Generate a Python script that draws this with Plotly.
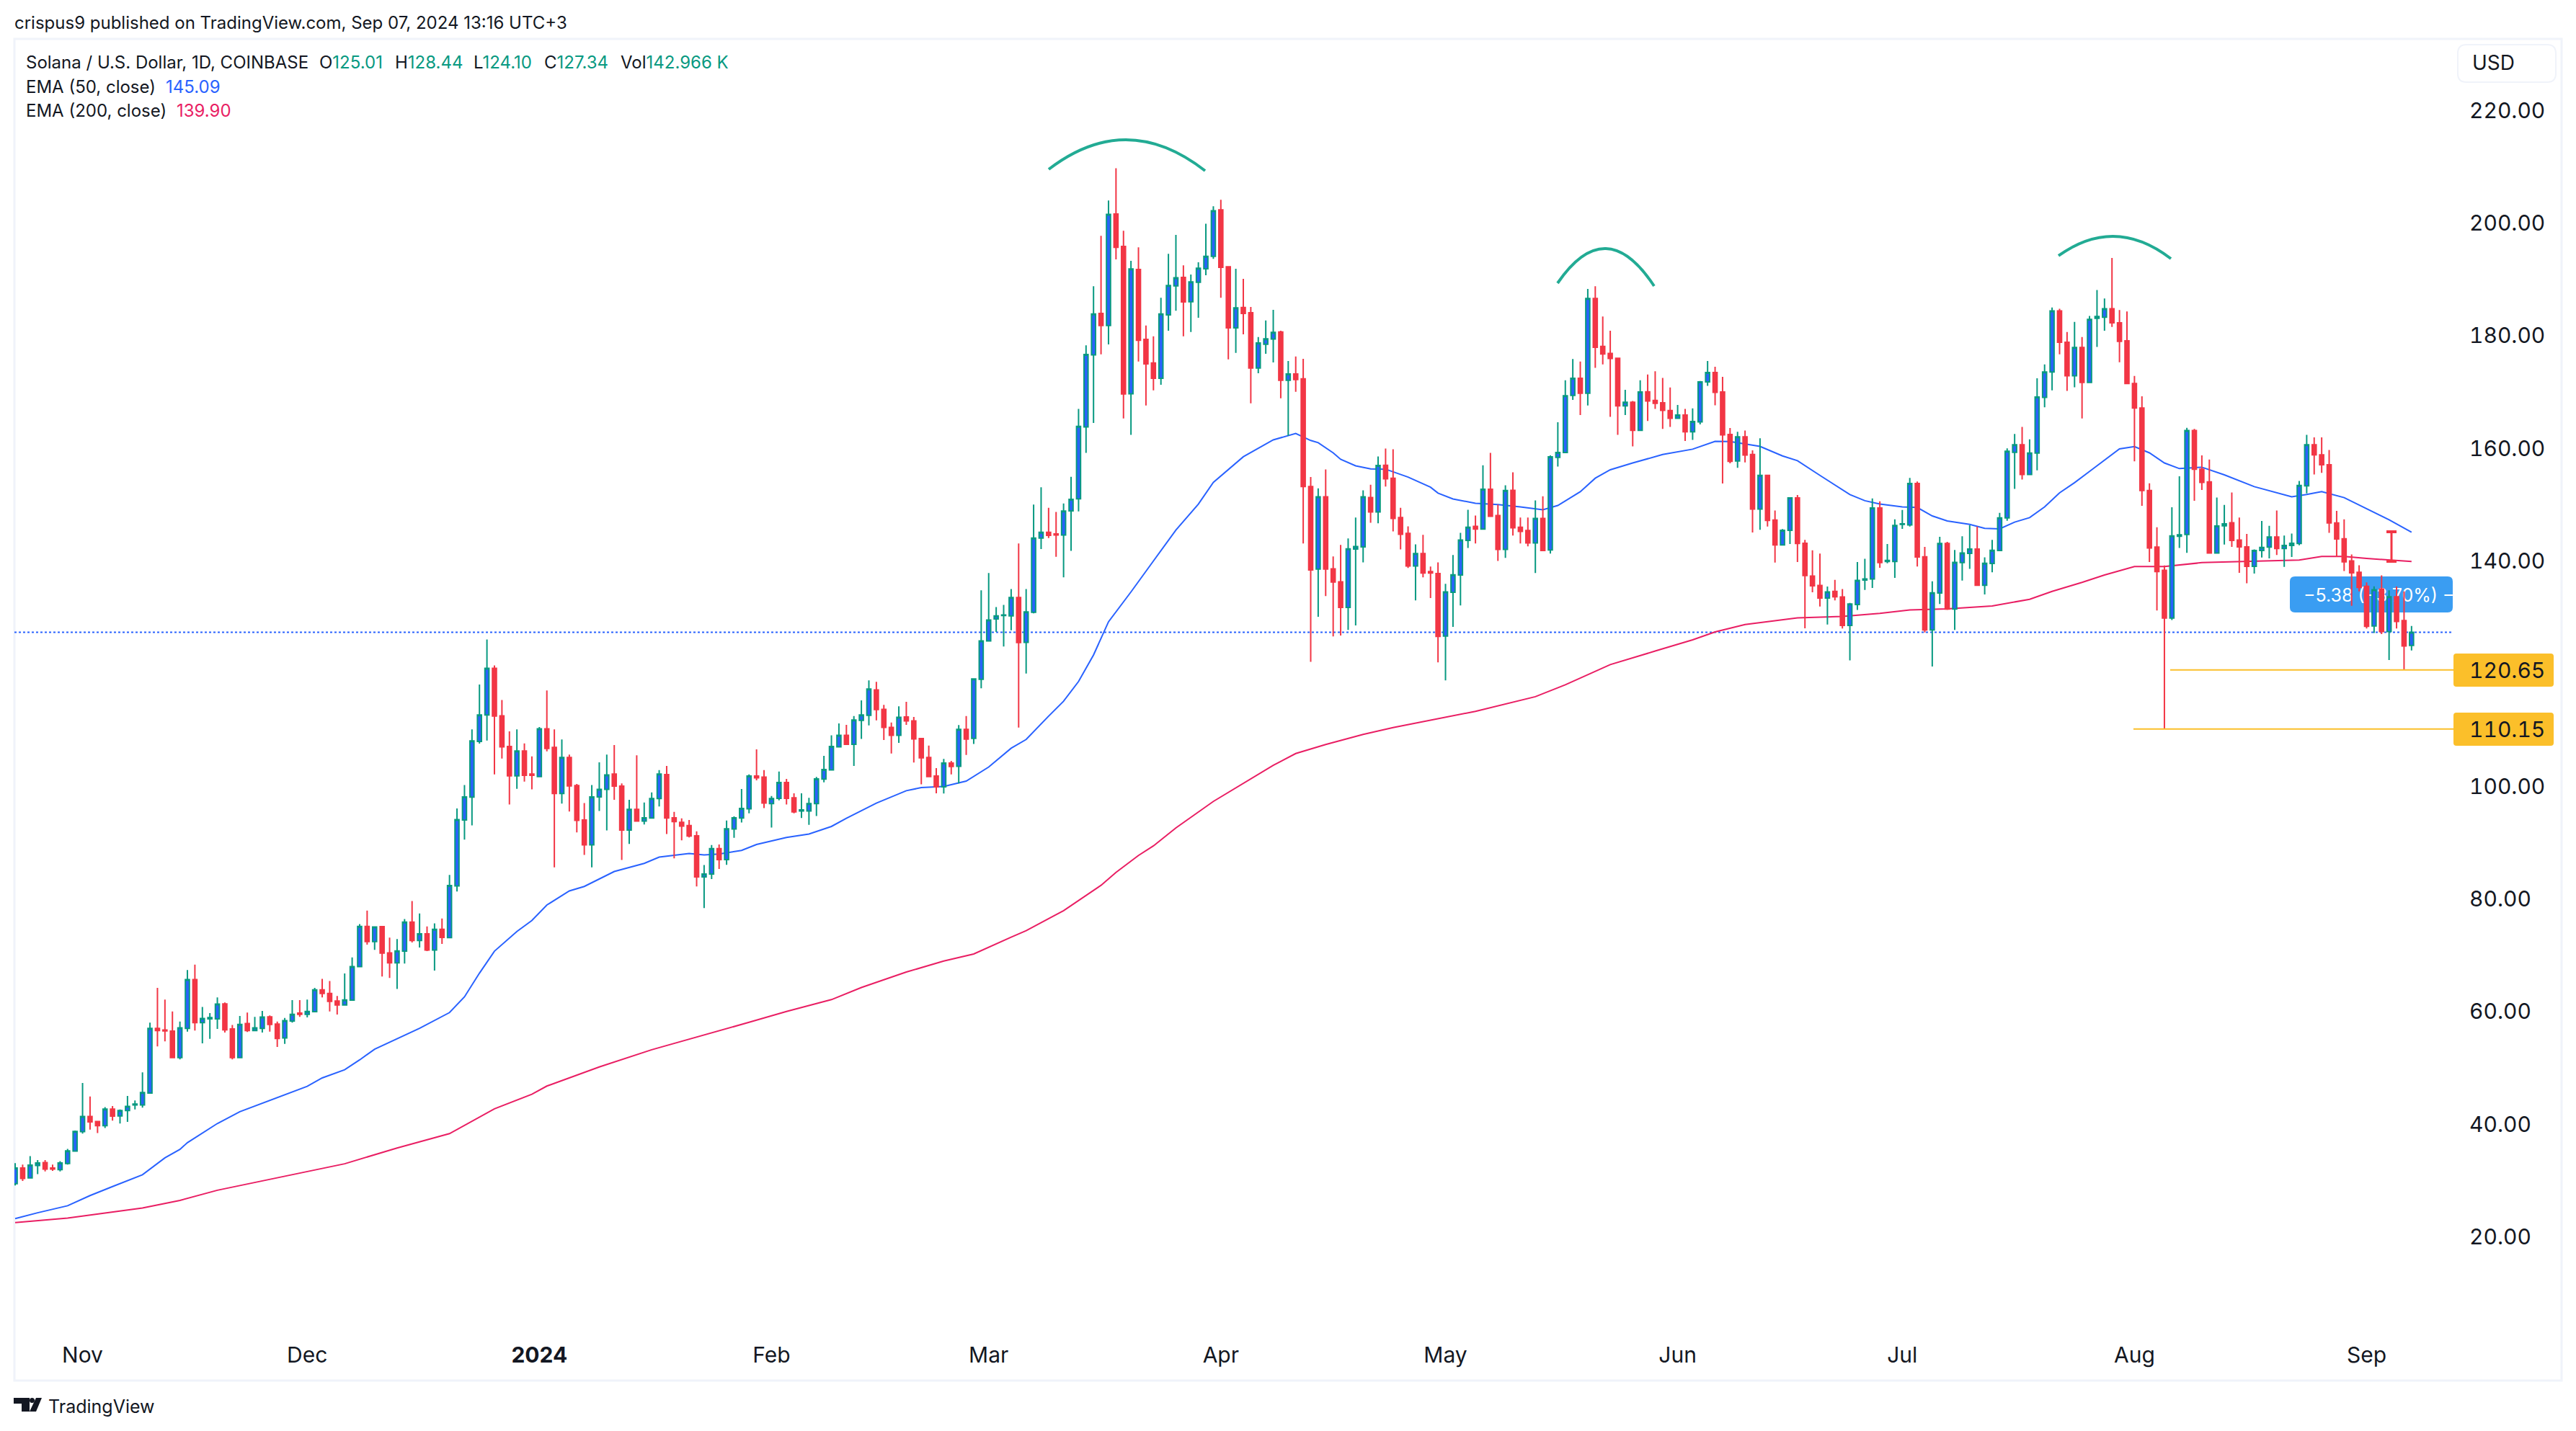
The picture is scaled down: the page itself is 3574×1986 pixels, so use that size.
import pandas as pd
import plotly.graph_objects as go

W, H = 3574, 1986
LEFT, RIGHT, TOP, BOTTOM = 20, 3404, 55, 1852

# daily candles, Oct 23 2023 .. Sep 7 2024
first_day = "2023-10-23"
opens = [
    29.4, 32.2, 30.45, 32.65, 33.15, 32.2, 31.9, 33.0, 35.2, 38.65,
    41.35, 40.45, 39.7, 42.65, 41.45, 42.4, 43.4, 43.4, 45.5, 57.0,
    56.7, 56.5, 51.8, 57.0, 65.65, 58.0, 58.7, 58.7, 61.35, 56.9,
    51.8, 57.85, 56.6, 57.0, 59.05, 57.75, 55.3, 58.3, 59.7, 59.5,
    59.95, 63.85, 63.2, 61.85, 61.15, 62.0, 67.95, 75.1, 72.4, 75.05,
    70.4, 68.65, 70.7, 75.85, 72.6, 73.8, 70.9, 74.6, 73.1, 82.3,
    94.0, 98.05, 107.95, 112.65, 120.95, 112.5, 107.05, 101.85, 106.25, 102.15,
    101.7, 110.2, 106.9, 98.7, 105.1, 100.1, 94.0, 89.6, 98.1, 99.45,
    102.15, 100.0, 92.2, 95.9, 93.8, 94.35, 97.8, 102.05, 94.4, 93.6,
    93.0, 91.2, 83.9, 84.4, 88.9, 86.95, 92.4, 94.35, 96.0, 101.8,
    101.6, 96.9, 97.85, 100.65, 97.95, 95.6, 95.6, 96.9, 101.25, 102.9,
    107.0, 109.05, 107.45, 111.7, 112.6, 117.1, 113.65, 110.45, 109.05, 112.3,
    111.6, 108.45, 105.1, 101.8, 99.9, 104.1, 103.55, 110.1, 108.5, 119.0,
    125.8, 129.7, 130.3, 130.25, 133.5, 125.55, 130.9, 144.05, 145.1, 144.8,
    144.6, 148.9, 151.05, 163.8, 176.6, 183.95, 181.8, 201.6, 195.85, 169.7,
    191.75, 179.35, 175.15, 172.45, 183.7, 188.85, 190.35, 186.05, 189.5, 191.9,
    194.1, 202.35, 192.25, 181.4, 185.0, 184.1, 174.25, 178.5, 179.4, 180.65,
    172.1, 173.2, 172.35, 153.2, 138.55, 151.4, 138.6, 136.3, 131.75, 142.1,
    142.5, 151.25, 148.7, 157.0, 154.7, 147.7, 144.9, 139.1, 141.3, 138.1,
    137.75, 126.65, 134.45, 137.5, 143.65, 146.15, 145.65, 152.75, 148.05, 142.05,
    152.55, 146.0, 145.4, 143.2, 147.55, 141.95, 158.4, 159.25, 169.4, 172.45,
    169.8, 186.6, 178.1, 176.85, 176.0, 167.55, 168.2, 163.2, 170.05, 168.5,
    168.1, 166.7, 165.35, 165.9, 162.95, 164.7, 171.8, 173.45, 170.0, 162.45,
    157.75, 162.05, 158.9, 149.2, 155.2, 147.25, 142.85, 145.45, 151.2, 143.15,
    137.3, 135.65, 133.4, 134.6, 133.6, 128.55, 132.25, 136.6, 136.8, 149.4,
    139.9, 139.9, 146.5, 146.4, 153.75, 140.75, 127.75, 134.3, 143.1, 131.45,
    139.7, 141.35, 142.1, 135.7, 139.55, 141.85, 147.65, 159.3, 160.65, 155.35,
    159.15, 169.05, 173.55, 184.4, 178.85, 172.9, 177.9, 171.7, 183.1, 183.3,
    184.8, 182.3, 179.1, 171.5, 167.15, 152.5, 142.45, 138.35, 129.85, 144.4,
    144.7, 163.15, 156.3, 154.05, 141.4, 146.25, 146.8, 143.7, 142.5, 139.05,
    141.85, 142.45, 144.25, 142.2, 142.75, 143.1, 153.35, 160.65, 158.85, 157.1,
    146.75, 143.95, 140.0, 138.0, 135.5, 128.45, 135.0, 127.45, 133.65, 129.4,
    125.01,
]
highs = [
    33.05, 32.8, 34.3, 33.6, 33.6, 32.8, 33.4, 35.6, 38.85, 47.3,
    44.9, 40.5, 43.0, 43.2, 42.6, 45.0, 44.2, 49.2, 58.0, 64.2,
    62.1, 60.0, 58.2, 67.35, 68.3, 60.8, 59.7, 62.5, 61.6, 57.6,
    59.2, 59.8, 59.05, 60.1, 59.3, 58.2, 58.85, 62.0, 62.0, 62.1,
    64.2, 65.8, 65.4, 62.75, 66.75, 69.6, 75.5, 77.9, 75.1, 75.1,
    73.1, 72.85, 76.4, 79.6, 77.4, 75.1, 75.65, 76.5, 84.25, 96.05,
    100.2, 110.1, 118.05, 126.05, 121.45, 115.3, 109.75, 110.1, 107.6, 105.3,
    110.5, 117.0, 110.1, 108.3, 105.6, 100.4, 97.0, 100.2, 104.25, 105.6,
    107.3, 100.5, 97.6, 105.5, 97.1, 98.9, 102.85, 103.6, 95.45, 94.3,
    94.0, 92.0, 86.0, 89.55, 89.65, 93.9, 94.65, 99.5, 102.1, 106.55,
    102.85, 98.25, 102.6, 101.3, 98.75, 98.75, 97.95, 101.65, 105.4, 109.05,
    111.15, 110.9, 112.45, 115.25, 118.8, 118.55, 114.45, 111.3, 114.2, 115.0,
    112.3, 108.45, 107.2, 103.2, 104.85, 104.5, 110.85, 112.45, 119.1, 134.8,
    137.85, 131.8, 132.2, 135.0, 143.1, 135.0, 150.0, 153.1, 149.45, 148.7,
    150.2, 154.95, 167.0, 178.3, 188.8, 197.75, 204.0, 209.75, 198.65, 193.3,
    195.7, 181.8, 179.9, 186.75, 194.55, 197.9, 192.5, 190.85, 193.05, 199.9,
    203.0, 204.15, 192.25, 191.9, 190.1, 185.1, 179.75, 182.7, 184.6, 180.9,
    175.5, 176.3, 175.9, 154.9, 152.9, 156.25, 140.8, 142.85, 144.0, 147.7,
    152.55, 153.55, 158.55, 159.95, 159.85, 149.45, 146.15, 142.95, 144.65, 139.0,
    139.75, 135.95, 141.05, 145.0, 149.1, 148.05, 157.0, 159.2, 150.0, 153.45,
    155.75, 147.7, 147.7, 150.75, 151.5, 158.75, 164.65, 172.1, 175.85, 175.4,
    188.3, 188.8, 183.4, 180.9, 176.0, 170.4, 168.4, 172.1, 173.1, 173.7,
    172.5, 170.8, 167.7, 167.0, 167.1, 171.95, 175.5, 174.5, 172.7, 163.6,
    162.95, 163.15, 159.65, 161.8, 155.2, 148.95, 145.65, 151.2, 151.7, 143.75,
    141.9, 141.3, 135.45, 136.65, 135.0, 132.55, 139.8, 140.4, 151.1, 150.6,
    143.0, 147.4, 149.05, 154.75, 154.1, 142.5, 136.4, 144.3, 143.4, 141.95,
    144.4, 146.35, 146.1, 140.65, 143.75, 148.55, 160.0, 162.55, 163.8, 161.6,
    172.45, 174.9, 185.0, 184.8, 180.65, 182.45, 179.75, 183.5, 188.1, 186.6,
    193.8, 184.55, 184.3, 172.85, 169.25, 153.8, 146.0, 139.2, 149.55, 155.05,
    163.65, 163.45, 158.75, 158.0, 151.25, 149.95, 152.15, 147.7, 144.8, 142.05,
    147.1, 146.25, 148.95, 144.5, 144.85, 154.2, 162.4, 161.95, 161.95, 159.7,
    148.9, 147.4, 141.15, 139.25, 136.2, 135.5, 137.45, 134.8, 135.45, 134.6,
    128.44,
]
lows = [
    29.1, 29.9, 30.35, 31.1, 31.6, 31.7, 31.6, 32.8, 35.1, 38.3,
    39.0, 38.4, 39.3, 40.6, 40.1, 40.4, 42.6, 42.9, 45.4, 53.8,
    54.7, 51.8, 51.5, 56.4, 56.6, 54.35, 55.15, 56.9, 56.25, 51.5,
    51.8, 56.35, 56.5, 56.25, 56.4, 53.7, 54.25, 58.0, 59.05, 58.95,
    59.9, 62.5, 60.0, 59.45, 61.1, 61.9, 67.9, 71.85, 70.95, 66.2,
    65.95, 64.0, 68.5, 72.25, 71.35, 70.7, 67.25, 72.0, 73.1, 81.3,
    90.5, 93.05, 107.55, 108.1, 102.1, 104.9, 96.75, 99.55, 100.8, 99.45,
    101.6, 106.2, 85.6, 96.9, 95.5, 91.8, 87.8, 85.6, 95.6, 92.15,
    97.6, 86.9, 89.75, 93.8, 93.2, 94.35, 96.4, 91.5, 87.2, 90.4,
    90.9, 82.2, 78.35, 83.5, 85.3, 86.05, 90.85, 93.55, 95.2, 101.05,
    96.1, 92.65, 97.5, 96.75, 95.2, 94.35, 93.15, 94.7, 100.7, 102.85,
    106.95, 107.45, 103.6, 108.4, 110.8, 111.7, 108.2, 105.8, 107.7, 110.9,
    104.2, 100.35, 101.6, 98.75, 98.7, 102.1, 100.5, 105.55, 107.5, 117.4,
    125.8, 127.4, 124.8, 127.7, 110.4, 120.0, 130.7, 142.1, 144.05, 140.75,
    137.1, 141.8, 148.8, 159.2, 164.5, 176.7, 178.45, 193.55, 165.3, 162.4,
    175.4, 167.6, 170.3, 171.3, 180.9, 184.45, 179.9, 180.65, 183.2, 190.75,
    193.65, 186.75, 175.8, 176.95, 180.25, 168.0, 173.35, 176.8, 175.25, 168.9,
    162.25, 170.05, 143.1, 122.1, 130.1, 133.75, 126.6, 126.75, 127.75, 128.55,
    139.75, 146.8, 146.7, 153.2, 145.25, 142.05, 138.75, 133.0, 137.1, 133.4,
    122.0, 118.8, 128.3, 132.1, 142.3, 143.1, 145.65, 147.95, 140.0, 140.55,
    144.5, 143.1, 142.6, 137.85, 141.85, 141.3, 156.75, 159.25, 168.6, 165.9,
    167.6, 174.3, 174.9, 165.6, 162.4, 165.9, 160.35, 163.2, 164.85, 167.0,
    163.45, 163.8, 165.3, 161.3, 161.5, 164.25, 171.1, 167.65, 153.75, 157.35,
    156.55, 157.5, 145.05, 145.55, 146.1, 139.7, 142.85, 143.0, 139.8, 128.05,
    134.45, 131.9, 128.7, 133.0, 128.0, 122.35, 131.3, 134.85, 135.2, 138.8,
    139.6, 137.0, 145.7, 146.1, 139.0, 127.3, 121.25, 132.35, 131.3, 127.75,
    136.5, 138.6, 135.7, 134.05, 138.0, 141.85, 147.15, 152.8, 154.45, 155.25,
    156.1, 167.3, 170.3, 176.7, 170.2, 170.85, 165.3, 171.7, 178.0, 180.9,
    181.55, 175.3, 171.5, 157.7, 149.8, 139.8, 131.2, 110.15, 129.5, 142.3,
    141.45, 150.7, 152.6, 141.3, 141.4, 142.9, 142.5, 137.9, 136.05, 137.75,
    140.6, 140.45, 141.05, 138.95, 140.7, 142.8, 152.0, 155.35, 155.65, 145.0,
    140.7, 138.2, 132.05, 134.6, 128.0, 127.2, 127.0, 122.4, 128.0, 120.65,
    124.10,
]
closes = [
    32.2, 30.35, 32.7, 33.1, 32.0, 32.0, 33.1, 35.25, 38.7, 41.35,
    40.4, 39.7, 42.65, 41.4, 42.4, 43.15, 43.55, 45.6, 57.0, 56.6,
    56.55, 51.8, 57.1, 65.65, 58.0, 58.75, 58.9, 61.3, 56.75, 51.8,
    57.7, 56.6, 57.1, 59.0, 57.7, 55.2, 58.35, 59.5, 59.5, 60.0,
    63.85, 63.2, 61.8, 61.15, 62.05, 67.95, 75.1, 72.4, 75.0, 70.35,
    68.65, 70.75, 75.85, 72.6, 73.8, 70.9, 74.6, 73.15, 82.35, 94.05,
    98.1, 108.05, 112.65, 120.95, 112.45, 107.0, 101.85, 106.25, 101.95, 101.95,
    110.2, 106.7, 98.7, 105.1, 100.05, 93.95, 89.6, 98.1, 99.45, 102.0,
    100.0, 92.2, 95.9, 93.8, 94.4, 97.8, 102.15, 94.35, 93.7, 92.9,
    91.15, 83.9, 84.4, 88.9, 86.95, 92.45, 94.4, 96.05, 101.8, 101.5,
    97.0, 97.8, 100.65, 97.85, 95.45, 95.8, 96.9, 101.3, 102.95, 107.05,
    109.05, 107.45, 111.75, 112.65, 117.25, 113.6, 110.45, 109.05, 112.25, 111.6,
    108.4, 105.05, 101.7, 99.9, 104.1, 103.5, 110.1, 108.35, 119.05, 125.8,
    129.5, 130.25, 130.4, 133.5, 125.5, 130.95, 144.05, 145.1, 144.55, 144.6,
    148.85, 150.95, 163.9, 176.65, 183.85, 181.8, 201.55, 195.7, 169.65, 191.85,
    179.2, 175.0, 172.45, 183.85, 188.9, 190.3, 186.0, 189.55, 192.0, 194.1,
    202.2, 192.15, 181.4, 184.95, 183.95, 174.25, 178.7, 179.45, 180.6, 172.1,
    173.2, 172.2, 153.2, 138.4, 151.4, 138.55, 136.25, 131.75, 142.15, 142.55,
    151.4, 148.7, 156.95, 154.6, 147.55, 144.75, 139.1, 141.3, 137.85, 137.85,
    126.6, 134.5, 137.55, 143.7, 146.0, 145.65, 152.75, 147.95, 142.05, 152.5,
    145.9, 145.25, 143.2, 147.55, 141.85, 158.5, 159.25, 169.35, 172.45, 169.8,
    186.6, 177.95, 176.75, 175.95, 167.55, 168.2, 163.2, 170.0, 168.4, 168.0,
    166.75, 165.35, 165.9, 162.95, 164.75, 171.8, 173.45, 169.95, 162.4, 157.7,
    162.05, 158.8, 149.2, 155.2, 147.2, 142.85, 145.45, 151.2, 143.1, 137.4,
    135.6, 133.4, 134.5, 133.65, 128.55, 132.35, 136.55, 136.8, 149.4, 139.7,
    140.1, 146.3, 146.6, 153.75, 140.7, 127.75, 134.35, 143.1, 131.45, 139.75,
    141.4, 142.1, 135.7, 139.6, 141.9, 147.65, 159.5, 160.65, 155.35, 159.15,
    169.1, 173.55, 184.4, 178.85, 172.9, 177.9, 171.7, 182.9, 183.4, 184.8,
    182.3, 179.0, 171.5, 167.15, 152.5, 142.3, 138.1, 129.85, 144.45, 144.65,
    163.15, 156.3, 153.95, 141.4, 146.2, 146.6, 143.65, 142.5, 139.05, 141.85,
    142.4, 144.25, 142.2, 142.75, 143.15, 153.4, 160.65, 158.85, 157.1, 146.75,
    143.9, 139.85, 137.9, 135.3, 128.4, 134.9, 127.45, 133.65, 129.25, 124.9,
    127.34,
]

# EMA lines, read at these candle numbers
ema50_at = [
    0, 3, 7, 10, 13, 17, 20, 22, 23, 27, 30, 34, 39, 41, 44, 46, 48, 54, 58, 60,
    62, 64, 67, 69, 71, 74, 76, 80, 84, 86, 90, 92, 94, 97, 99, 103, 106, 109, 111, 115,
    119, 121, 124, 127, 130, 133, 135, 138, 140, 142, 144, 146, 149, 152, 155, 158, 160, 164, 168, 171,
    173, 174, 176, 177, 179, 181, 183, 186, 189, 190, 192, 195, 198, 201, 204, 206, 209, 211, 213, 216,
    220, 224, 227, 229, 233, 236, 238, 241, 243, 245, 247, 249, 252, 254, 256, 258, 261, 263, 265, 267,
    269, 271, 273, 275, 277, 279, 281, 283, 285, 287, 289, 292, 295, 299, 304, 306, 308, 311, 314, 317, 320,
]
ema50 = [
    23.2, 24.25, 25.5, 27.3, 28.9, 31.0, 34.0, 35.5, 36.7, 40.1, 42.2, 44.2, 46.7, 48.2, 49.65, 51.4, 53.3, 57.0, 59.8, 62.6,
    66.8, 70.7, 74.2, 76.15, 78.9, 81.4, 82.2, 84.85, 86.3, 87.4, 88.05, 87.8, 87.95, 88.6, 89.65, 90.9, 91.5, 92.85, 94.3, 97.0,
    99.2, 99.75, 99.95, 100.9, 103.4, 106.75, 108.3, 112.45, 115.1, 118.6, 123.3, 129.2, 134.5, 140.0, 145.5, 150.1, 153.95, 158.5, 161.5, 162.65,
    161.4, 161.0, 159.2, 158.05, 156.9, 156.35, 156.3, 154.9, 153.1, 152.05, 151.0, 150.25, 150.0, 149.6, 149.1, 149.85, 152.3, 154.7, 156.2, 157.4,
    158.9, 159.85, 161.25, 161.2, 160.35, 158.65, 157.8, 155.2, 153.5, 151.8, 150.7, 150.1, 149.6, 149.5, 148.0, 147.1, 146.5, 145.8, 145.7, 146.9,
    147.7, 149.6, 152.1, 153.9, 155.9, 157.9, 159.9, 160.3, 159.2, 157.4, 156.4, 156.65, 155.3, 153.2, 151.4, 151.8, 152.3, 151.25, 149.3, 147.3, 145.09,
]
ema200_at = [
    0, 7, 17, 22, 27, 37, 44, 51, 58, 64, 69, 71, 78, 85, 92, 98, 103, 109, 113, 119,
    124, 128, 133, 135, 140, 145, 147, 150, 152, 155, 160, 164, 168, 171, 175, 180, 184, 195, 203, 207,
    213, 219, 224, 227, 231, 238, 244, 249, 253, 258, 264, 269, 272, 276, 279, 283, 287, 292, 301, 305,
    308, 311, 314, 320,
]
ema200 = [
    22.5, 23.3, 25.1, 26.45, 28.25, 31.0, 32.95, 35.75, 38.3, 42.7, 45.3, 46.75, 50.15, 53.2, 55.8, 58.07, 60.0, 62.1, 64.25, 67.0,
    68.95, 70.2, 73.2, 74.35, 77.9, 82.4, 84.7, 87.7, 89.4, 92.6, 97.3, 100.5, 103.7, 105.8, 107.4, 109.2, 110.4, 113.3, 115.9, 118.0,
    121.6, 124.0, 126.0, 127.4, 128.7, 129.9, 130.15, 130.7, 131.3, 131.5, 132.0, 133.2, 134.6, 136.2, 137.5, 139.0, 139.0, 139.7, 140.0, 140.15,
    140.8, 140.8, 140.45, 139.9,
]

last_close = 127.34
levels = [120.65, 110.15]
price_ticks = [220, 200, 180, 160, 140, 100, 80, 60, 40, 20]
month_days = ["2023-11-01", "2023-12-01", "2024-01-01", "2024-02-01", "2024-03-01", "2024-04-01",
              "2024-05-01", "2024-06-01", "2024-07-01", "2024-08-01", "2024-09-01"]
month_names = ["Nov", "Dec", "<b>2024</b>", "Feb", "Mar", "Apr", "May", "Jun", "Jul", "Aug", "Sep"]

INK = "#131722"
GREEN = "#089981"
BLUE = "#2962ff"
RED = "#f23645"
PINK = "#e91e63"
YELLOW = "#fbbf2a"
FRAME = "#f0f3fa"
FONT = "Inter"


def fx(px):
    return (px - LEFT) / (RIGHT - LEFT)


def fy(py):
    return (BOTTOM - py) / (BOTTOM - TOP)


def path(points, close=True):
    cmds = [f"{'L' if n else 'M'}{fx(x):.5f},{fy(y):.5f}" for n, (x, y) in enumerate(points)]
    return " ".join(cmds) + (" Z" if close else "")


def round_box(x0, y0, x1, y1, r):
    return (
        f"M{fx(x0 + r):.5f},{fy(y0):.5f} L{fx(x1 - r):.5f},{fy(y0):.5f} "
        f"Q{fx(x1):.5f},{fy(y0):.5f} {fx(x1):.5f},{fy(y0 + r):.5f} "
        f"L{fx(x1):.5f},{fy(y1 - r):.5f} Q{fx(x1):.5f},{fy(y1):.5f} {fx(x1 - r):.5f},{fy(y1):.5f} "
        f"L{fx(x0 + r):.5f},{fy(y1):.5f} Q{fx(x0):.5f},{fy(y1):.5f} {fx(x0):.5f},{fy(y1 - r):.5f} "
        f"L{fx(x0):.5f},{fy(y0 + r):.5f} Q{fx(x0):.5f},{fy(y0):.5f} {fx(x0 + r):.5f},{fy(y0):.5f} Z"
    )


def arc(x0, y0, cx, cy, x1, y1):
    return f"M{fx(x0):.5f},{fy(y0):.5f} Q{fx(cx):.5f},{fy(cy):.5f} {fx(x1):.5f},{fy(y1):.5f}"


days = pd.date_range(first_day, periods=len(opens), freq="D")

fig = go.Figure()
fig.add_trace(go.Scatter(
    x=days[ema50_at], y=ema50, mode="lines", line=dict(color=BLUE, width=2), zorder=1,
))
fig.add_trace(go.Scatter(
    x=days[ema200_at], y=ema200, mode="lines", line=dict(color=PINK, width=2), zorder=1,
))
fig.add_trace(go.Candlestick(
    x=days, open=opens, high=highs, low=lows, close=closes,
    increasing=dict(line=dict(color=GREEN, width=2), fillcolor=BLUE),
    decreasing=dict(line=dict(color=RED, width=2), fillcolor=RED),
    whiskerwidth=0, zorder=2,
))

shapes = []
# frame around the chart
shapes.append(dict(type="rect", xref="paper", yref="paper", layer="below",
                   x0=fx(20), x1=fx(3554), y0=fy(54), y1=fy(1916),
                   line=dict(color=FRAME, width=3), fillcolor="white"))
# price line and measure label sit under the candles
shapes.append(dict(type="line", xref="paper", yref="y", layer="below",
                   x0=0, x1=1, y0=last_close, y1=last_close,
                   line=dict(color=BLUE, width=2, dash="dot")))
shapes.append(dict(type="path", xref="paper", yref="paper", layer="below",
                   path=round_box(3177, 800, 3403, 850, 7), fillcolor="#3a9df2", line=dict(width=0),
                   label=dict(text="−5.38 (−3.70%) −5", font=dict(family=FONT, size=25, color="white"),
                              textposition="middle left", padding=16)))
shapes.append(dict(type="rect", xref="paper", yref="paper", layer="below",
                   x0=fx(3403), x1=fx(3424), y0=fy(795), y1=fy(855),
                   fillcolor="white", line=dict(width=0)))
# support levels and their tags
starts = [3011, 2960]
tag_tops = [907, 989]
for level, start, top in zip(levels, starts, tag_tops):
    shapes.append(dict(type="line", xref="paper", yref="y", x0=fx(start), x1=1, y0=level, y1=level,
                       line=dict(color=YELLOW, width=2)))
    shapes.append(dict(type="path", xref="paper", yref="paper", path=round_box(3404, top, 3543, top + 46, 4),
                       fillcolor=YELLOW, line=dict(width=0)))
# head and shoulders arcs
for a in [(1455, 235, 1563, 152, 1672, 237), (2161, 393, 2228, 295, 2295, 397), (2856, 355, 2934, 299, 3012, 359)]:
    shapes.append(dict(type="path", xref="paper", yref="paper", path=arc(*a),
                       line=dict(color="#22ab94", width=4)))
# red bracket
shapes.append(dict(type="line", xref="paper", yref="paper", x0=fx(3318), x1=fx(3318), y0=fy(738), y1=fy(779),
                   line=dict(color=RED, width=3)))
for py in (738, 779):
    shapes.append(dict(type="line", xref="paper", yref="paper", x0=fx(3311), x1=fx(3325), y0=fy(py), y1=fy(py),
                       line=dict(color=RED, width=4)))
# USD box
shapes.append(dict(type="path", xref="paper", yref="paper", path=round_box(3410, 62, 3546, 114, 12),
                   fillcolor="white", line=dict(color=FRAME, width=2)))
# logo
shapes.append(dict(type="path", xref="paper", yref="paper", fillcolor=INK, line=dict(width=0),
                   path=path([(19, 1940), (41, 1940), (41, 1959), (30, 1959), (30, 1948), (19, 1948)])))
shapes.append(dict(type="circle", xref="paper", yref="paper", fillcolor=INK, line=dict(width=0),
                   x0=fx(41), x1=fx(48), y0=fy(1940), y1=fy(1947)))
shapes.append(dict(type="path", xref="paper", yref="paper", fillcolor=INK, line=dict(width=0),
                   path=path([(50, 1940), (58, 1940), (50, 1959), (41, 1959)])))


def label(px, py, text, size=24, color=INK):
    return dict(xref="paper", yref="paper", x=fx(px), y=fy(py), text=text, showarrow=False,
                xanchor="left", yanchor="middle", align="left", borderpad=0,
                font=dict(family=FONT, size=size, color=color))


def tint(text, color):
    return f'<span style="color:{color}">{text}</span>'


annotations = [
    label(19, 32, "crispus9 published on TradingView.com, Sep 07, 2024 13:16 UTC+3"),
    label(35, 87, "Solana / U.S. Dollar, 1D, COINBASE"),
    label(442, 87, "O" + tint("125.01", GREEN)),
    label(547, 87, "H" + tint("128.44", GREEN)),
    label(656, 87, "L" + tint("124.10", GREEN)),
    label(754, 87, "C" + tint("127.34", GREEN)),
    label(860, 87, "Vol" + tint("142.966 K", GREEN)),
    label(35, 120, "EMA (50, close)"),
    label(229, 120, "145.09", color=BLUE),
    label(35, 153, "EMA (200, close)"),
    label(244, 153, "139.90", color=PINK),
    label(3429, 87, "USD", size=28),
    label(3425, 930, f"{levels[0]:.2f}", size=30),
    label(3425, 1012, f"{levels[1]:.2f}", size=30),
    label(66, 1952, "TradingView", size=25),
]

fig.update_layout(
    width=W, height=H,
    margin=dict(l=LEFT, r=W - RIGHT, t=TOP, b=H - BOTTOM, pad=0),
    paper_bgcolor="white", plot_bgcolor="rgba(0,0,0,0)",
    showlegend=False, boxgap=0.23,
    font=dict(family=FONT, color=INK, size=30),
    shapes=shapes, annotations=annotations,
    xaxis=dict(
        type="date", range=["2023-10-22 21:36", "2024-09-12 14:24"],
        rangeslider=dict(visible=False), showgrid=False, zeroline=False, showline=False,
        tickmode="array", tickvals=month_days, ticktext=month_names, ticks="",
        ticklabelstandoff=8, tickfont=dict(family=FONT, size=30, color=INK),
    ),
    yaxis=dict(
        side="right", range=[2.64, 232.58], showgrid=False, zeroline=False, showline=False,
        tickmode="array", tickvals=price_ticks, tickformat=".2f", ticks="",
        ticklabelstandoff=21, tickfont=dict(family=FONT, size=30, color=INK),
    ),
)

# price scale digits are tabular in the original, the legend texts are not
page_css = (
    "document.body.style.margin='0';"
    "var s=document.createElement('style');"
    "s.textContent='.ytick text,.annotation[data-index=\"12\"] text,.annotation[data-index=\"13\"] text"
    "{font-variant-numeric:tabular-nums;font-feature-settings:\"tnum\"}';"
    "document.head.appendChild(s);"
)
fig.write_html("out.html", post_script=page_css, config={"displayModeBar": False})
